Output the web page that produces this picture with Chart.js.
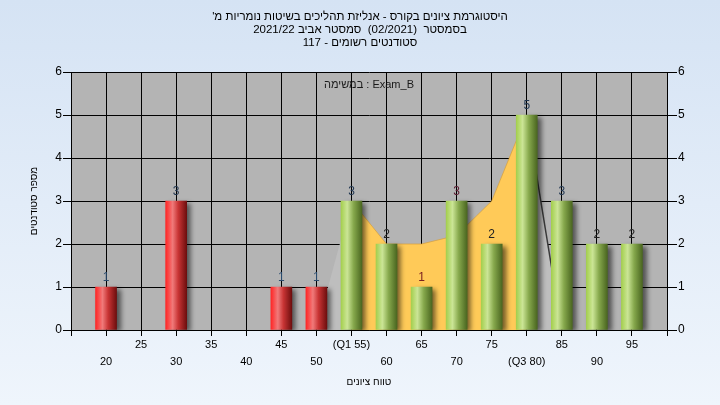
<!DOCTYPE html>
<html lang="he">
<head>
<meta charset="utf-8">
<title>היסטוגרמת ציונים</title>
<script src="https://cdn.jsdelivr.net/npm/chart.js@4.4.1/dist/chart.umd.min.js"></script>
<style>
  html, body { margin: 0; padding: 0; }
  body { width: 720px; height: 405px; overflow: hidden; }
  #wrap { width: 720px; height: 405px; background: linear-gradient(180deg, #D5E3F4 0%, #EFF5FC 100%); }
  canvas { display: block; }
</style>
</head>
<body>
<div id="wrap"><canvas id="histChart" width="720" height="405"></canvas></div>
<script>
/* grade histogram — bars per score bin, shaded frequency area between Q1 and Q3 */

// ── Data ───────────────────────────────────────────────────────────────────────
const scoreBins     = [20, 30, 45, 50, 55, 60, 65, 70, 75, 80, 85, 90, 95];
const studentCounts = [1, 3, 1, 1, 3, 2, 1, 3, 2, 5, 3, 2, 2];
const q1Score = 55;

const lowerTailX = [50, 55];
const lowerTailY = [0, 3];
const middleX    = [55, 60, 65, 70, 75, 80];
const middleY    = [3, 2, 2, 2.2, 3, 5];
const upperTailX = [80, 85];
const upperTailY = [5, 0];

const upperTickValues = [25, 35, 45, 55, 65, 75, 85, 95];
const upperTickLabels = ['25', '35', '45', '(Q1 55)', '65', '75', '85', '95'];
const lowerTickValues = [20, 30, 40, 50, 60, 70, 80, 90];
const lowerTickLabels = ['20', '30', '40', '50', '60', '70', '(Q3 80)', '90'];

const titleLines = [
  "היסטוגרמת ציונים בקורס - אנליזת תהליכים בשיטות נומריות מ'",
  'בסמסטר  (02/2021)  סמסטר אביב 2021/22',
  'סטודנטים רשומים - 117',
];
const examLabel = 'במשימה : Exam_B';
const xTitle = 'טווח ציונים';
const yTitle = 'מספר סטודנטים';

// ── Styles ─────────────────────────────────────────────────────────────────────
const FONT = 'Arial, "Liberation Sans", "DejaVu Sans", sans-serif';
const BAR_W = 21;
const RED_STOPS   = [[0, '#FF2626'], [0.33, '#F07A7A'], [0.6, '#C83434'], [1, '#6E0E0E']];
const GREEN_STOPS = [[0, '#A4CF4E'], [0.3, '#CBE596'], [0.6, '#86A84C'], [1, '#4A6620']];
const LABEL_INK = ['#2B4C6F', '#1F3550', '#2B4C6F', '#2B4C6F', '#1F3550', '#222222', '#7A2020',
                   '#5A1A30', '#222222', '#1F3550', '#1F3550', '#222222', '#222222'];

const rtl = s => '\u202B' + s + '\u202C';
const pts = (xs, ys) => xs.map((x, i) => ({ x, y: ys[i] }));

function tickLabel(value) {
  const u = upperTickValues.indexOf(value);
  const l = lowerTickValues.indexOf(value);
  return [u >= 0 ? upperTickLabels[u] : '', l >= 0 ? lowerTickLabels[l] : ''];
}

function barFill(ctx) {
  const chart = ctx.chart;
  if (ctx.type !== 'data' || !chart.chartArea) return '#888';
  const score = scoreBins[ctx.dataIndex];
  const cx = chart.scales.x.getPixelForValue(score);
  const g = chart.ctx.createLinearGradient(cx - BAR_W / 2, 0, cx + BAR_W / 2, 0);
  (score < q1Score ? RED_STOPS : GREEN_STOPS).forEach(([o, c]) => g.addColorStop(o, c));
  return g;
}

// ── Plugins ────────────────────────────────────────────────────────────────────
const plotBackground = {
  id: 'plotBackground',
  beforeDraw(chart) {
    const { ctx, chartArea: a } = chart;
    ctx.save();
    ctx.fillStyle = '#B4B4B4';
    ctx.fillRect(a.left, a.top, a.right - a.left, a.bottom - a.top);
    ctx.restore();
  },
};

const barShadow = {
  id: 'barShadow',
  beforeDatasetDraw(chart, args) {
    if (args.meta.type !== 'bar') return;
    const c = chart.ctx;
    c.save();
    c.shadowColor = 'rgba(0,0,0,0.55)';
    c.shadowBlur = 5;
    c.shadowOffsetX = 4;
    c.shadowOffsetY = 2;
  },
  afterDatasetDraw(chart, args) {
    if (args.meta.type === 'bar') chart.ctx.restore();
  },
};

const countLabels = {
  id: 'countLabels',
  afterDatasetsDraw(chart) {
    const c = chart.ctx;
    const meta = chart.getDatasetMeta(0);
    const a = chart.chartArea;
    c.save();
    c.font = '12px ' + FONT;
    c.textAlign = 'center';
    c.textBaseline = 'bottom';
    meta.data.forEach((bar, i) => {
      c.fillStyle = LABEL_INK[i];
      c.fillText(String(studentCounts[i]), bar.x, bar.y - 3);
    });
    c.fillStyle = '#1A1A1A';
    c.font = '11px ' + FONT;
    c.textBaseline = 'middle';
    c.fillText(examLabel, (a.left + a.right) / 2, a.top + 13);
    c.restore();
  },
};

// ── Chart ──────────────────────────────────────────────────────────────────────
new Chart(document.getElementById('histChart'), {
  type: 'bar',
  data: {
    datasets: [
      {
        type: 'bar',
        data: pts(scoreBins, studentCounts),
        backgroundColor: barFill,
        borderWidth: 0,
        barThickness: BAR_W,
        order: 0,
      },
      {
        type: 'line',
        data: pts(middleX, middleY),
        fill: 'origin',
        backgroundColor: '#FFCA58',
        borderColor: 'rgba(214,160,60,0.7)',
        borderWidth: 1,
        pointRadius: 0,
        tension: 0,
        order: 1,
      },
      {
        type: 'line',
        data: pts(lowerTailX, lowerTailY),
        fill: 'origin',
        backgroundColor: '#BEBEBE',
        borderColor: 'rgba(0,0,0,0)',
        borderWidth: 0,
        pointRadius: 0,
        tension: 0,
        order: 1,
      },
      {
        type: 'line',
        data: pts(upperTailX, upperTailY),
        fill: 'origin',
        backgroundColor: '#BEBEBE',
        borderColor: '#3A3A3A',
        borderWidth: 1.5,
        pointRadius: 0,
        tension: 0,
        order: 1,
      },
    ],
  },
  options: {
    responsive: false,
    animation: false,
    layout: { padding: 0 },
    plugins: {
      legend: { display: false },
      tooltip: { enabled: false },
      title: {
        display: true,
        text: titleLines.map(rtl),
        color: '#000',
        font: { family: FONT, size: 11.5, weight: 'normal', lineHeight: 13 / 11.5 },
        padding: { top: 10, bottom: 23 },
      },
    },
    scales: {
      x: {
        type: 'linear',
        min: 15, max: 100,
        offset: false,
        grid: { color: '#000', lineWidth: 1, tickLength: 6, offset: false },
        border: { color: '#000' },
        ticks: {
          stepSize: 5, autoSkip: false, maxRotation: 0, padding: 0,
          color: '#000',
          font: { family: FONT, size: 11, lineHeight: 17 / 11 },
          callback: v => tickLabel(v),
        },
        title: {
          display: true, text: xTitle, color: '#000',
          font: { family: FONT, size: 10 },
          padding: { top: 0, bottom: 17 },
        },
        afterFit: s => { s.height = 75; },
      },
      y: {
        min: 0, max: 6,
        grid: { color: '#000', lineWidth: 1, tickLength: 8 },
        border: { color: '#000' },
        ticks: { stepSize: 1, padding: 1, color: '#000', font: { family: FONT, size: 12 } },
        title: {
          display: true, text: yTitle, color: '#000',
          font: { family: FONT, size: 10 },
          padding: { top: 28, bottom: 0 },
        },
        afterFit: s => { s.width = 71; },
      },
      y2: {
        position: 'right',
        min: 0, max: 6,
        grid: { drawOnChartArea: false, color: '#000', tickLength: 10 },
        border: { color: '#000' },
        ticks: { stepSize: 1, padding: 1, color: '#000', font: { family: FONT, size: 12 } },
        afterFit: s => { s.width = 53; },
      },
    },
  },
  plugins: [plotBackground, barShadow, countLabels],
});
</script>
</body>
</html>
